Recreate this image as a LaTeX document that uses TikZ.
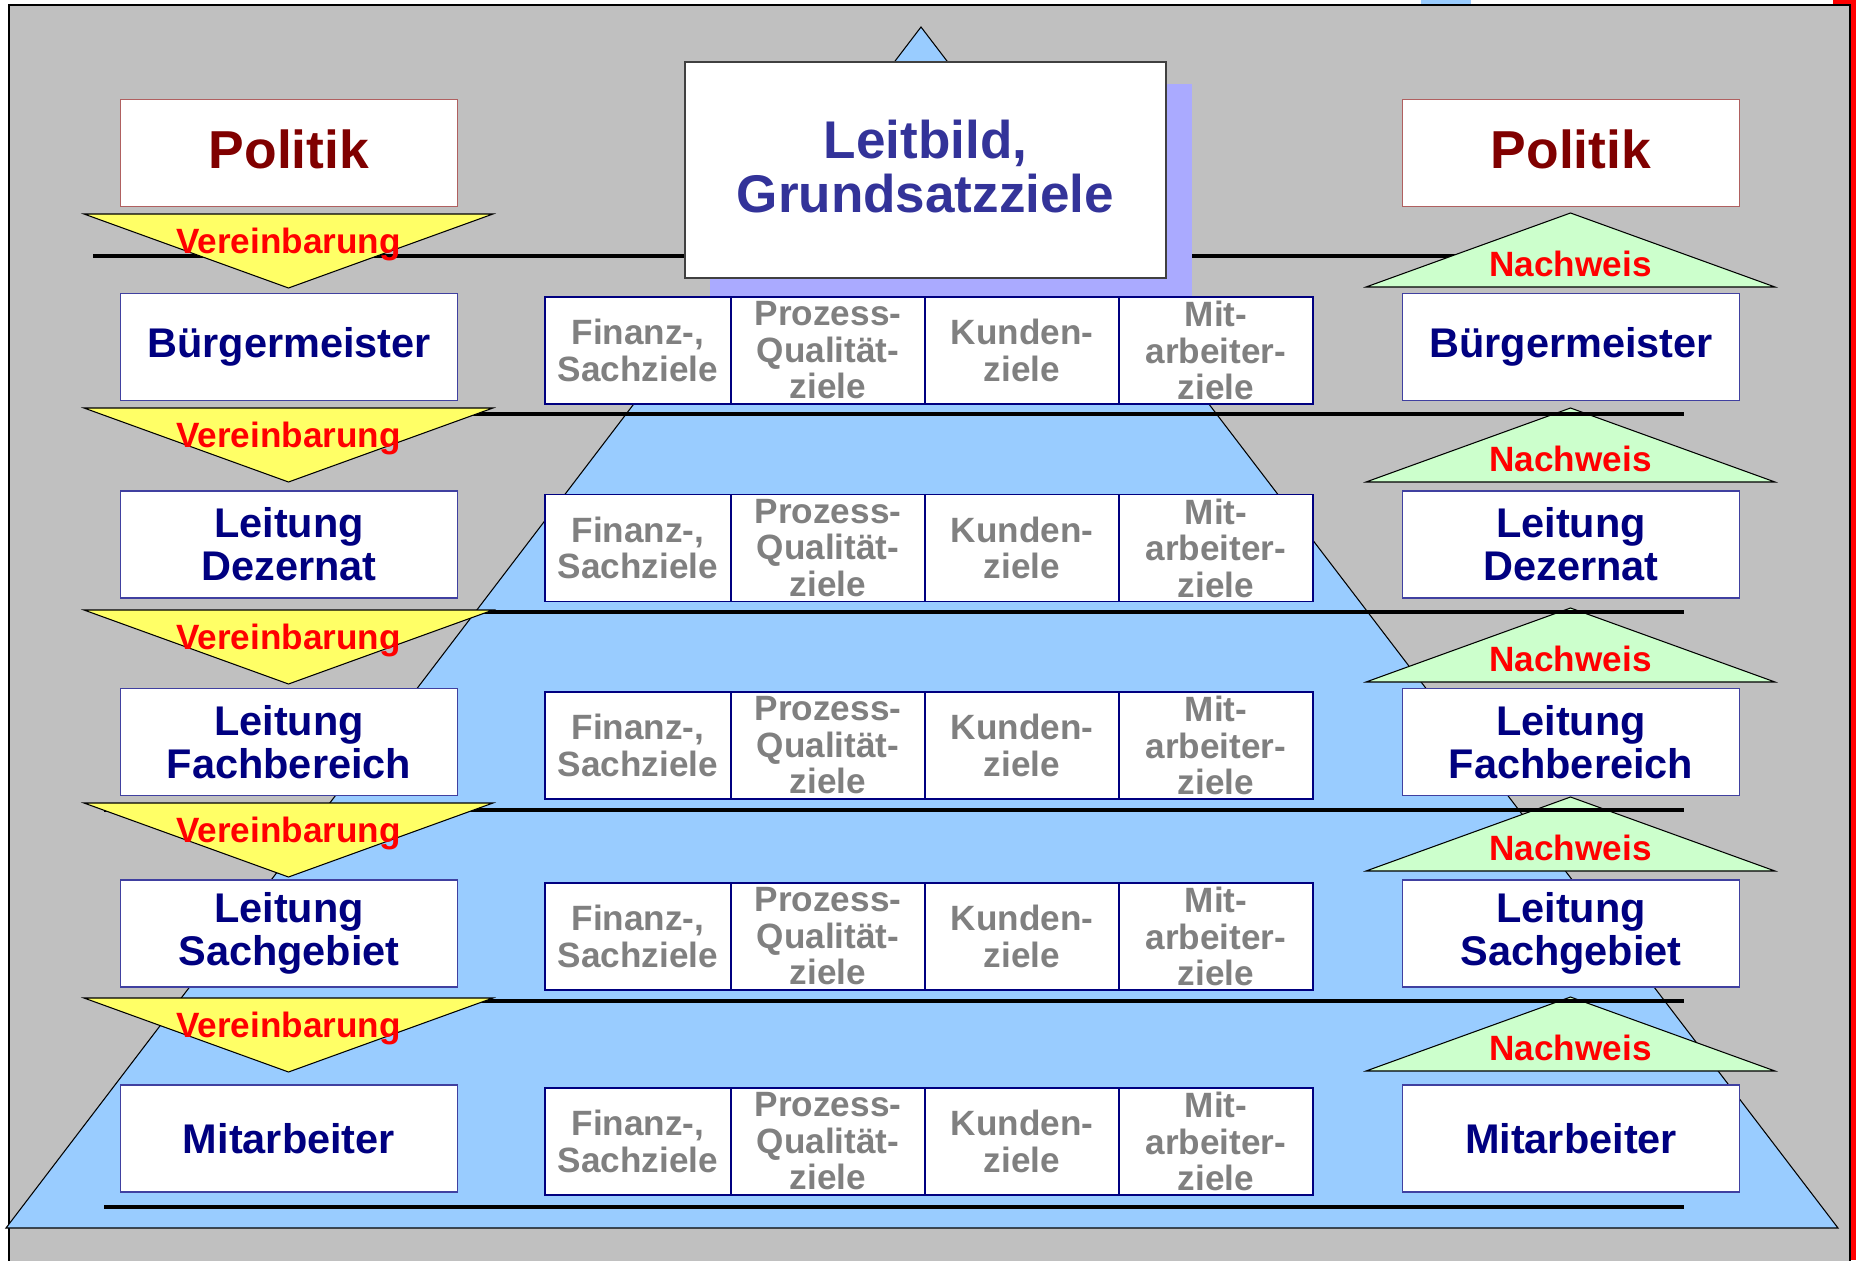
\documentclass[tikz,border=0pt]{standalone}
\usepackage{fontspec}
\setmainfont{Liberation Sans}
\usepackage{xcolor}
\usepackage{tikz}
\usetikzlibrary{positioning}

\definecolor{bggray}{HTML}{C0C0C0}
\definecolor{pyrblue}{HTML}{99CCFF}
\definecolor{shadowblue}{HTML}{AAAAFF}
\definecolor{yellowtri}{HTML}{FFFF66}
\definecolor{greentri}{HTML}{CCFFCC}
\definecolor{navytext}{HTML}{000080}
\definecolor{marontext}{HTML}{800000}
\definecolor{leittext}{HTML}{333399}
\definecolor{boxblue}{HTML}{4040A0}
\definecolor{polred}{HTML}{B06060}
\definecolor{goalgray}{HTML}{808080}

\begin{document}
\begin{tikzpicture}[
  sidebox/.style={
    rectangle,
    draw=boxblue,
    fill=white,
    line width=0.4pt,
    align=center,
    minimum width=3.37cm,
    minimum height=1.07cm,
    text=navytext,
    font=\fontsize{11.8}{12.2}\selectfont\bfseries
  },
  polbox/.style={sidebox, draw=polred, text=marontext, text depth=0.07cm,
    font=\fontsize{15.2}{16}\selectfont\bfseries},
  goal/.style={
    rectangle,
    draw=navytext,
    fill=white,
    line width=0.4pt,
    inner sep=0pt,
    align=center,
    minimum height=1.07cm,
    text=goalgray,
    font=\fontsize{10}{10.4}\selectfont\bfseries
  },
  layerline/.style={line width=1pt},
  vtri/.style={fill=yellowtri, draw=black, line width=0.3pt},
  ntri/.style={fill=greentri, draw=black, line width=0.3pt},
  tritext/.style={anchor=base, inner sep=0pt, text=red,
    font=\fontsize{10}{12}\selectfont\bfseries}
]
\useasboundingbox (0,0) rectangle (18.56,12.6);

% Hintergrund
\fill[pyrblue] (14.21,12.55) rectangle (14.71,12.6);
\fill[red] (18.33,12.55) rectangle (18.56,12.6);
\fill[red] (18.51,0) rectangle (18.56,12.6);
\draw[fill=bggray, line width=0.6pt] (0.09,-0.1) rectangle (18.50,12.55);

% Pyramide
\draw[fill=pyrblue, line width=0.3pt] (0.06,0.32) -- (9.21,12.33) -- (18.38,0.32) -- cycle;

% Ebenen-Linien
\draw[layerline] (0.93,10.04) -- (16.84,10.04);

% Nachweis (rechts)
\foreach \b [count=\r] in {9.73,7.78,5.78,3.89,1.89} {
  \draw[ntri] (13.66,\b) -- (17.75,\b) -- (15.705,\b+0.74) -- cycle;
  \node[tritext] (nach\r) at (15.705,\b+0.105) {Nachweis};
}

\foreach \y in {8.46,6.48,4.50,2.59,0.53}
  \draw[layerline] (1.04,\y) -- (16.84,\y);

% Vereinbarung (links)
\foreach \t [count=\r] in {10.46,8.52,6.50,4.57,2.62} {
  \draw[vtri] (0.84,\t) -- (4.93,\t) -- (2.885,\t-0.74) -- cycle;
  \node[tritext] (ver\r) at (2.885,\t-0.395) {Vereinbarung};
}

% Hierarchie links
\node[polbox] (polL) at (2.89,11.07) {Politik};
\node[sidebox] (bmL) at (2.89,9.13) {Bürgermeister};
\node[sidebox] (dezL) at (2.89,7.155) {Leitung\\Dezernat};
\node[sidebox] (fbL) at (2.89,5.18) {Leitung\\Fachbereich};
\node[sidebox] (sgL) at (2.89,3.265) {Leitung\\Sachgebiet};
\node[sidebox] (maL) at (2.89,1.215) {Mitarbeiter};

% Hierarchie rechts
\node[polbox] (polR) at (15.71,11.07) {Politik};
\node[sidebox] (bmR) at (15.71,9.13) {Bürgermeister};
\node[sidebox] (dezR) at (15.71,7.155) {Leitung\\Dezernat};
\node[sidebox] (fbR) at (15.71,5.18) {Leitung\\Fachbereich};
\node[sidebox] (sgR) at (15.71,3.265) {Leitung\\Sachgebiet};
\node[sidebox] (maR) at (15.71,1.215) {Mitarbeiter};

% Zielfelder
\foreach \y [count=\r] in {9.095,7.12,5.145,3.235,1.185} {
  \node[goal, minimum width=1.86cm] (fin\r) at (6.38,\y) {Finanz-,\\Sachziele};
  \node[goal, minimum width=1.94cm] (pro\r) at (8.28,\y) {Prozess-\\Qualität-\\ziele};
  \node[goal, minimum width=1.94cm] (kun\r) at (10.22,\y) {Kunden-\\ziele};
  \node[goal, minimum width=1.94cm] (mit\r) at (12.16,\y) {Mit-\\arbeiter-\\ziele};
}

% Leitbild (Spitze)
\fill[shadowblue] (7.10,9.64) rectangle (11.92,11.76);
\node[rectangle, draw=black!75, fill=white, line width=0.5pt,
  minimum width=4.81cm, minimum height=2.16cm, align=center, text depth=0.07cm,
  text=leittext, font=\fontsize{15.1}{15.4}\selectfont\bfseries]
  (leit) at (9.255,10.90) {Leitbild,\\Grundsatzziele};

\end{tikzpicture}
\end{document}
